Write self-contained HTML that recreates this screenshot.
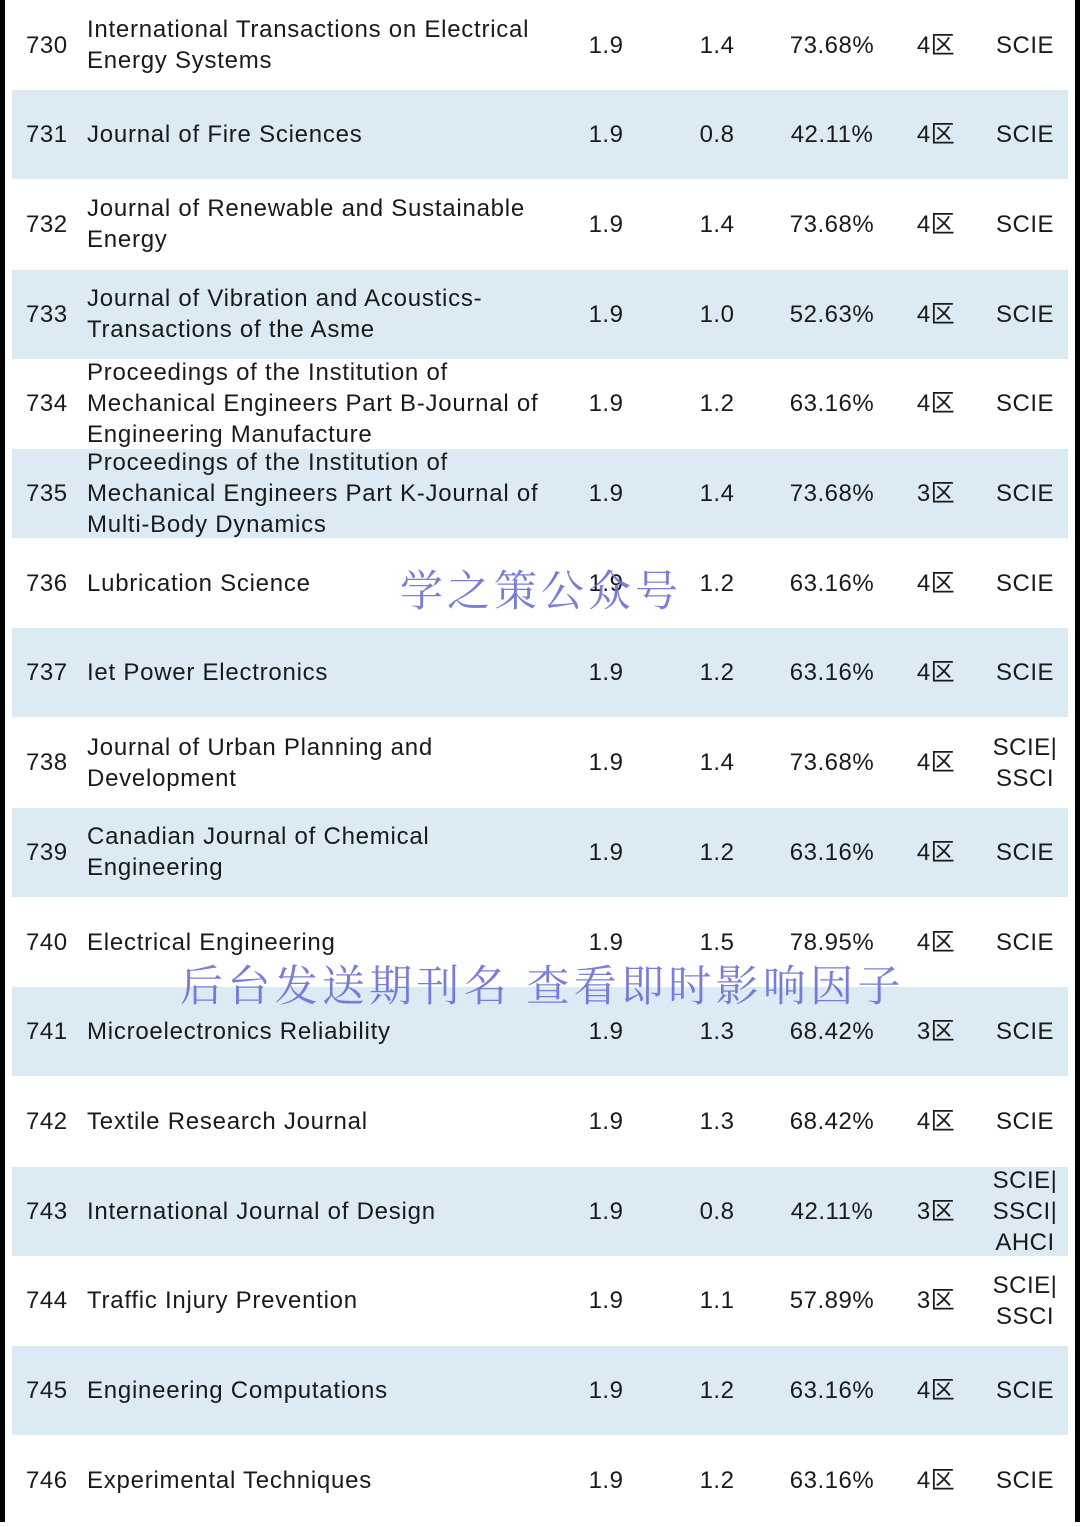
<!DOCTYPE html>
<html><head><meta charset="utf-8"><style>
body{margin:0;width:1080px;height:1527px;background:#fff;position:relative;overflow:hidden;font-family:"Liberation Sans","Noto Sans CJK SC",sans-serif;color:#1a1a1a}
.b{position:absolute;left:0;top:0;width:5px;height:1522px;background:#000}
.r{position:absolute;right:0;top:0;width:5px;height:1522px;background:#000}
.row{position:absolute;left:12px;width:1056px;height:89px}
.row.s{background:#dbeaf3}
.c{position:absolute;top:0;height:89px;display:flex;align-items:center;font-size:24px;line-height:31px;letter-spacing:0.5px}
.n{left:14px}.t{left:75px;width:480px;letter-spacing:0.75px}
.v{justify-content:center;text-align:center}
.wm{position:absolute;font-family:"Noto Serif CJK SC",serif;color:#6a70d4;opacity:.9;font-size:43px;white-space:nowrap;letter-spacing:4px}
</style></head><body>
<div class="b"></div>
<div class="r"></div>
<div id="tbl"></div>
<div class="wm" style="left:400px;top:558px">学之策公众号</div>
<div class="wm" style="left:180px;top:953px;letter-spacing:4.3px">后台发送期刊名 查看即时影响因子</div>
<script>
const ids=[730,731,732,733,734,735,736,737,738,739,740,741,742,743,744,745,746];
const titles=["International Transactions on Electrical<br>Energy Systems","Journal of Fire Sciences","Journal of Renewable and Sustainable<br>Energy","Journal of Vibration and Acoustics-<br>Transactions of the Asme","Proceedings of the Institution of<br>Mechanical Engineers Part B-Journal of<br>Engineering Manufacture","Proceedings of the Institution of<br>Mechanical Engineers Part K-Journal of<br>Multi-Body Dynamics","Lubrication Science","Iet Power Electronics","Journal of Urban Planning and<br>Development","Canadian Journal of Chemical<br>Engineering","Electrical Engineering","Microelectronics Reliability","Textile Research Journal","International Journal of Design","Traffic Injury Prevention","Engineering Computations","Experimental Techniques"];
const if1=["1.9","1.9","1.9","1.9","1.9","1.9","1.9","1.9","1.9","1.9","1.9","1.9","1.9","1.9","1.9","1.9","1.9"];
const if2=["1.4","0.8","1.4","1.0","1.2","1.4","1.2","1.2","1.4","1.2","1.5","1.3","1.3","0.8","1.1","1.2","1.2"];
const pct=["73.68%","42.11%","73.68%","52.63%","63.16%","73.68%","63.16%","63.16%","73.68%","63.16%","78.95%","68.42%","68.42%","42.11%","57.89%","63.16%","63.16%"];
const zone=["4区","4区","4区","4区","4区","3区","4区","4区","4区","4区","4区","3区","4区","3区","3区","4区","4区"];
const idx=["SCIE","SCIE","SCIE","SCIE","SCIE","SCIE","SCIE","SCIE","SCIE|<br>SSCI","SCIE","SCIE","SCIE","SCIE","SCIE|<br>SSCI|<br>AHCI","SCIE|<br>SSCI","SCIE","SCIE"];
const tbl=document.getElementById('tbl');
ids.forEach((id,i)=>{
 const r=document.createElement('div');
 r.className='row'+(i%2?' s':'');
 r.style.top=(i*89.7+0.5)+'px';
 
 
 const cells=[['n','',id,'rank'],['t','',titles[i],'journal-title'],['v','left:554px;width:80px',if1[i],'impact-factor'],['v','left:665px;width:80px',if2[i],'five-year-if'],['v','left:760px;width:120px',pct[i],'percentile'],['v','left:894px;width:60px',zone[i],'zone'],['v','left:968px;width:90px',idx[i],'index']];
 cells.forEach(c=>{
  const d=document.createElement('div');
  d.className='c '+c[0];
  if(c[1])d.style.cssText=c[1];
  d.innerHTML=c[2];
  
  
  r.appendChild(d);
 });
 tbl.appendChild(r);
});
</script>
</body></html>
